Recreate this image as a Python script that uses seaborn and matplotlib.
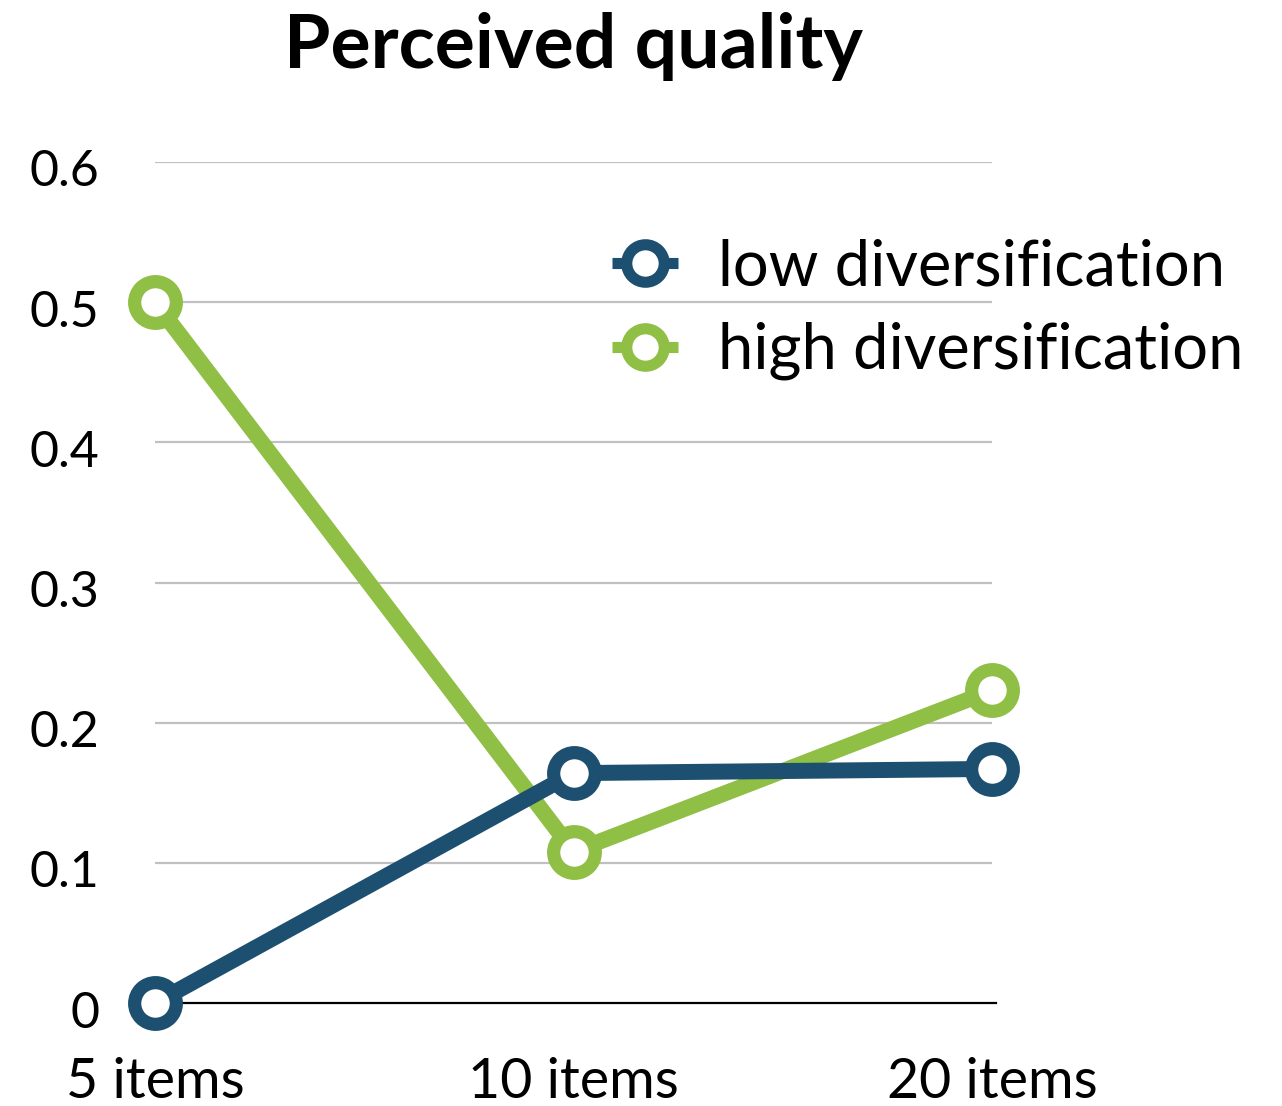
import numpy as np
import pandas as pd
import matplotlib
matplotlib.use("Agg")
import matplotlib.pyplot as plt
import matplotlib.transforms as mtransforms
import seaborn as sns

# données
categories = ["5 items", "10 items", "20 items"]
low_div = [0.0, 0.164, 0.167]
high_div = [0.5, 0.108, 0.223]
series_names = ["low diversification", "high diversification"]
colors = ["#1d4f70", "#8fbf44"]
y_ticks = [0, 0.1, 0.2, 0.3, 0.4, 0.5, 0.6]
y_labels = ["0", "0.1", "0.2", "0.3", "0.4", "0.5", "0.6"]

df = pd.DataFrame({
    "x": categories * 2,
    "pos": list(range(len(categories))) * 2,
    "value": low_div + high_div,
    "series": [series_names[0]] * 3 + [series_names[1]] * 3,
})

sns.set_theme(style="white")
plt.rcParams["font.family"] = ["Lato", "DejaVu Sans"]
plt.rcParams["text.color"] = "black"
plt.rcParams["xtick.color"] = "black"
plt.rcParams["ytick.color"] = "black"

fig = plt.figure(figsize=(12.82, 11.06), dpi=100)
ax = fig.add_axes([155 / 1282, 1 - 1003 / 1106, (992 - 155) / 1282, (1003 - 162) / 1106])

# grille
for t in y_ticks[1:]:
    ax.axhline(t, color="#c0c0c0", lw=1.6, zorder=0)

# bleu au-dessus du vert
for name, col, z in zip(series_names, colors, [4, 3]):
    sub = df[df["series"] == name]
    sns.lineplot(data=sub, x="pos", y="value", ax=ax, color=col, lw=11.5,
                 marker="o", markersize=30, markeredgewidth=9.5,
                 markerfacecolor="white", markeredgecolor=col,
                 label=name, clip_on=False, zorder=z)

ax.set_xlim(0, 2)
ax.set_ylim(0, 0.6)
ax.set_xticks(range(len(categories)))
ax.set_xticklabels(categories)
ax.set_yticks(y_ticks)
ax.set_yticklabels(y_labels)
ax.set_xlabel("")
ax.set_ylabel("")
ax.tick_params(axis="y", length=0, pad=40, labelsize=36, labelcolor="black")
ax.tick_params(axis="x", length=0, pad=39, labelsize=40, labelcolor="black")

# petit décalage vers le bas des étiquettes de l'axe y
offset = mtransforms.ScaledTranslation(0, -6 / 100, fig.dpi_scale_trans)
for lab in ax.get_yticklabels():
    lab.set_transform(lab.get_transform() + offset)

for s in ["top", "right", "left"]:
    ax.spines[s].set_visible(False)
ax.spines["bottom"].set_color("black")
ax.spines["bottom"].set_linewidth(1.6)
ax.spines["bottom"].set_bounds(-0.03, 2.01)

ax.set_title("Perceived quality", fontsize=54, fontweight="bold", pad=68, color="black")

leg = ax.legend(loc="upper left", bbox_to_anchor=(612 / 1282, 1 - 238 / 1106),
                bbox_transform=fig.transFigure, frameon=False, fontsize=45.5,
                handlelength=1.05, handletextpad=0.63, borderpad=0, borderaxespad=0,
                labelspacing=0.41)
for h in leg.legend_handles:
    h.set_markersize(27)
    h.set_markeredgewidth(8)
    h.set_linewidth(8)
    h.set_solid_capstyle("butt")
for t in leg.get_texts():
    t.set_color("black")

fig.savefig("out.png", dpi=100)
